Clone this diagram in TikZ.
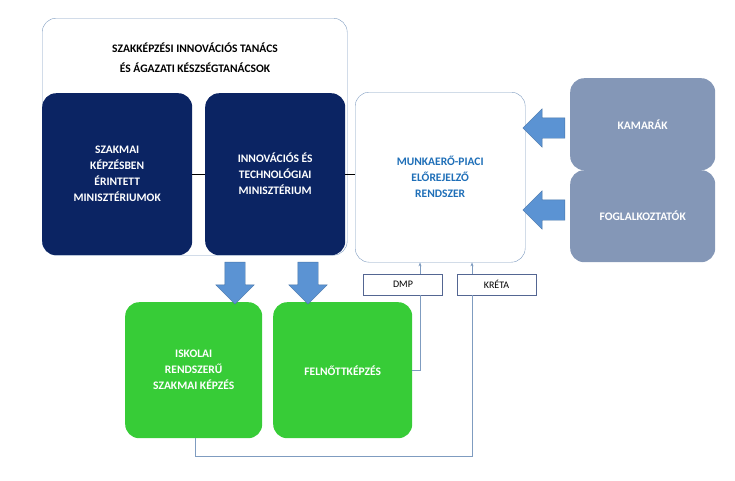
\documentclass[tikz,border=0pt]{standalone}
\usepackage{fontspec}
\setmainfont{Carlito}
\usetikzlibrary{arrows.meta,shapes.arrows}
\definecolor{navy}{HTML}{0B2463}
\definecolor{slate}{HTML}{8497B7}
\definecolor{frame}{HTML}{7F9CC0}
\definecolor{grn}{HTML}{37CC37}
\definecolor{bluearr}{HTML}{5B93D3}
\definecolor{txtblue}{HTML}{1F6FB8}
\tikzset{
  box/.style={rounded corners=14pt, font=\bfseries\fontsize{11.5}{16}\selectfont, align=center, anchor=north west, inner sep=0pt},
  darkbox/.style={box, fill=navy, text=white},
  greybox/.style={box, fill=slate, text=white},
  greenbox/.style={box, fill=grn, text=white},
  tag/.style={draw=navy!70, fill=white, font=\fontsize{10}{11}\selectfont, minimum width=79pt, minimum height=21pt, inner sep=0pt},
  link/.style={draw=frame, line width=0.6pt},
  bigarrow/.style={single arrow, fill=bluearr, draw=bluearr!80!black, minimum height=42pt, inner sep=10pt, single arrow head extend=9pt},
}
\begin{document}
\begin{tikzpicture}[x=1pt,y=-1pt]
  \useasboundingbox (0,0) rectangle (735,480);
  % outer council frame
  \node[box, draw=frame, minimum width=305pt, minimum height=237pt] (council) at (42,18) {};
  \node[font=\bfseries\fontsize{11.5}{20}\selectfont, align=center] (title) at (195,58)
    {SZAKKÉPZÉSI INNOVÁCIÓS TANÁCS\\ÉS ÁGAZATI KÉSZSÉGTANÁCSOK};
  % ministries
  \node[darkbox, minimum width=150pt, minimum height=162pt] (szakm) at (42,93)
    {SZAKMAI\\KÉPZÉSBEN\\ÉRINTETT\\MINISZTÉRIUMOK};
  \node[darkbox, minimum width=140pt, minimum height=162pt] (itm) at (205,93)
    {INNOVÁCIÓS ÉS\\TECHNOLÓGIAI\\MINISZTÉRIUM};
  % forecasting system
  \node[box, draw=frame, fill=white, text=txtblue, minimum width=170pt, minimum height=170pt] (mep) at (355,92)
    {MUNKAERŐ-PIACI\\ELŐREJELZŐ\\RENDSZER};
  \draw (szakm.east) -- (itm.west);
  \draw (itm.east) -- (itm.east -| mep.west);
  % partners
  \node[greybox, minimum width=145pt, minimum height=92pt] (kam) at (570,78) {KAMARÁK};
  \node[greybox, minimum width=145pt, minimum height=92pt] (fog) at (570,170) {FOGLALKOZTATÓK};
  \node[bigarrow, shape border rotate=180] (a1) at (549,128) {};
  \node[bigarrow, shape border rotate=180] (a2) at (549,210) {};
  % training
  \node[greenbox, minimum width=137pt, minimum height=136pt] (isk) at (125,302)
    {ISKOLAI\\RENDSZERŰ\\SZAKMAI KÉPZÉS};
  \node[greenbox, minimum width=139pt, minimum height=136pt] (felnott) at (273,302) {FELNŐTTKÉPZÉS};
  \node[bigarrow, shape border rotate=270] (a3) at (235,278) {};
  \node[bigarrow, shape border rotate=270] (a4) at (308,278) {};
  % data sources
  \node[tag] (dmp) at (403,284.5) {DMP};
  \node[tag] (kreta) at (496.5,284.5) {KRÉTA};
  \coordinate (dmpx) at (420,0);
  \coordinate (krx) at (472,0);
  \draw[link] (felnott.east) -- (felnott.east -| dmpx) -- (dmpx |- dmp.south);
  \draw[link, -{Stealth[length=4pt]}] (dmpx |- dmp.north) -- (dmpx |- mep.south);
  \draw[link] (krx |- kreta.south) -- (472,456) -- (195,456) -- (isk.south -| 195,0);
  \draw[link, -{Stealth[length=4pt]}] (krx |- kreta.north) -- (krx |- mep.south);
\end{tikzpicture}
\end{document}
